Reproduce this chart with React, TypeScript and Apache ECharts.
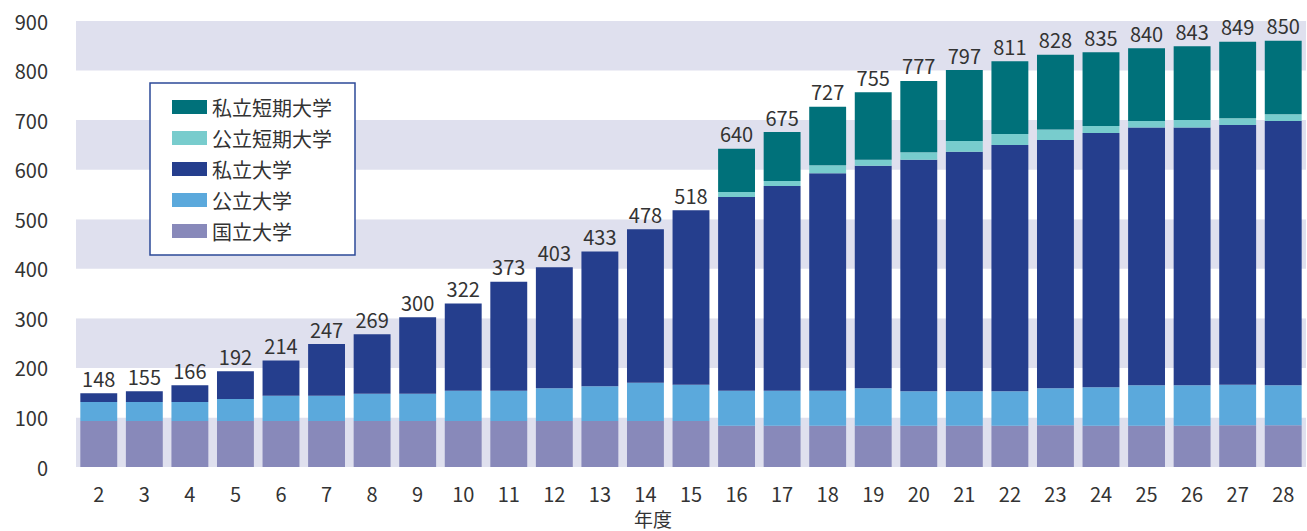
import React, { useEffect, useRef } from "react";
import * as echarts from "echarts";

const years = ["2","3","4","5","6","7","8","9","10","11","12","13","14","15","16","17","18","19","20","21","22","23","24","25","26","27","28"];
const national = [93,93,93,93,93,93,93,93,93,93,93,93,93,93,83,83,83,83,83,83,83,84,83,83,83,84,84];
const publicUniv = [38,38,38,44,51,51,55,55,61,61,66,70,77,73,71,71,71,76,70,70,70,75,78,82,82,82,81];
const privateUniv = [18,22,34,56,71,104,120,154,176,220,244,272,310,352,391,413,439,449,467,483,497,501,513,520,520,524,533];
const publicJC = [null,null,null,null,null,null,null,null,null,null,null,null,null,null,10,10,16,12,15,22,22,21,14,13,15,14,14];
const privateJC = [null,null,null,null,null,null,null,null,null,null,null,null,null,null,87,99,118,136,144,143,147,151,149,147,149,154,148];
const totals = [148,155,166,192,214,247,269,300,322,373,403,433,478,518,640,675,727,755,777,797,811,828,835,840,843,849,850];
const yTicks = { min: 0, max: 900, interval: 100 };

const FONT = '"Noto Sans CJK JP", "Noto Sans", sans-serif';

export default function App() {
  const ref = useRef<HTMLDivElement>(null);
  useEffect(() => {
    if (!ref.current) return;
    const chart = echarts.init(ref.current, null, { renderer: "svg" });
    const topLabel = {
      show: true,
      position: "top",
      distance: 5,
      color: "#333",
      fontSize: 20,
      fontFamily: FONT,
      formatter: (p: any) => String(totals[p.dataIndex]),
    };
    const withLabels = (arr: (number | null)[], isTop: (i: number) => boolean) =>
      arr.map((v, i) => (isTop(i) ? { value: v, label: topLabel } : { value: v }));
    const hasJC = (i: number) => privateJC[i] != null;
    const mk = (name: string, color: string, data: any[]) => ({
      name,
      type: "bar",
      stack: "total",
      barCategoryGap: "19%",
      itemStyle: { color },
      label: { show: false },
      data,
    });
    chart.setOption({
      animation: false,
      textStyle: { fontFamily: FONT },
      grid: { left: 76, right: 1, top: 21, bottom: 64, containLabel: false },
      legend: {
        orient: "vertical",
        left: 150,
        top: 83,
        data: ["私立短期大学", "公立短期大学", "私立大学", "公立大学", "国立大学"],
        icon: "rect",
        itemWidth: 35,
        itemHeight: 14,
        itemGap: 11,
        padding: [14, 23, 14, 22],
        borderColor: "#2d4a98",
        borderWidth: 1.5,
        backgroundColor: "#ffffff",
        textStyle: { fontSize: 20, lineHeight: 20, color: "#333", fontFamily: FONT },
      },
      xAxis: {
        type: "category",
        data: years,
        axisLine: { show: false },
        axisTick: { show: false },
        axisLabel: { color: "#333", fontSize: 20, lineHeight: 16, margin: 18, fontFamily: FONT },
      },
      yAxis: {
        type: "value",
        min: yTicks.min,
        max: yTicks.max,
        interval: yTicks.interval,
        axisLine: { show: false },
        axisTick: { show: false },
        splitLine: { show: false },
        splitArea: { show: true, areaStyle: { color: ["#dfe0ee", "#ffffff"] } },
        axisLabel: { color: "#333", fontSize: 20, margin: 28, fontFamily: FONT },
      },
      graphic: [
        {
          type: "text",
          left: 634,
          top: 509,
          style: { text: "年度", fontSize: 19, lineHeight: 19, fill: "#333", fontFamily: FONT },
        },
      ],
      series: [
        mk("国立大学", "#8889ba", national.map((v) => ({ value: v }))),
        mk("公立大学", "#5ba9dc", publicUniv.map((v) => ({ value: v }))),
        mk("私立大学", "#253e8d", withLabels(privateUniv, (i) => !hasJC(i))),
        mk("公立短期大学", "#78cccd", publicJC.map((v) => ({ value: v }))),
        mk("私立短期大学", "#00717a", withLabels(privateJC, (i) => hasJC(i))),
      ],
    });
    return () => chart.dispose();
  }, []);
  return (
    <div
      ref={ref}
      style={{ position: "fixed", left: 0, top: 0, width: 1307, height: 531, background: "#fff" }}
    />
  );
}
